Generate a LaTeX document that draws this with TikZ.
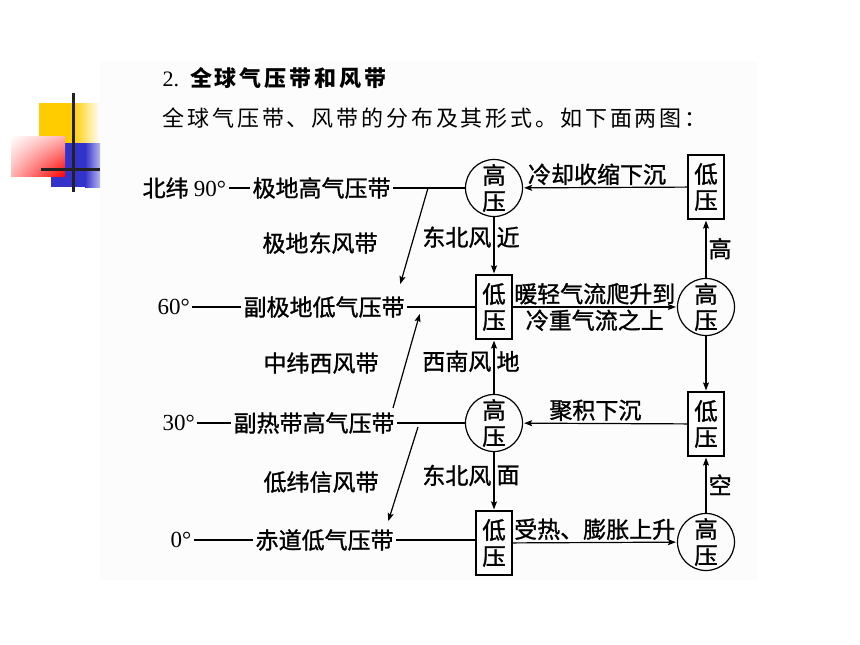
\documentclass[tikz,border=0pt]{standalone}
\usepackage{fontspec}
\setmainfont{Liberation Serif}
\newfontfamily\cjk{Noto Sans CJK SC}
\newfontfamily\cjkm[FakeBold=1.2]{Noto Sans CJK SC}
\usepackage{tikz}
\usetikzlibrary{arrows.meta, positioning, shadings}

\definecolor{decoyellow}{HTML}{FFCC00}
\definecolor{decoblue}{HTML}{3333CC}
\definecolor{decoline}{HTML}{222222}

\begin{document}
\begin{tikzpicture}[x = 1pt, y = -1pt, >={Stealth[length = 8pt, width = 6pt, inset = 1.5pt]}, line width = 1.2pt, font = \cjkm\fontsize{23}{26}\selectfont]
  \tikzstyle{every node} = [inner sep = 2pt]
  \tikzstyle{high} = [draw, shape = circle, minimum size = 57pt, inner sep = 0pt, align = center, font = \cjkm\fontsize{23.5}{26}\selectfont]
  \tikzstyle{low}  = [draw, shape = rectangle, minimum width = 36pt, minimum height = 64pt, inner sep = 0pt, align = center, font = \cjkm\fontsize{23.5}{26}\selectfont]
  \tikzstyle{flow} = [->, shorten >= 1pt]
  \tikzstyle{band} = [anchor = west]

  \useasboundingbox (0,0) rectangle (860,645);
  \fill[black!1.2] (100,62) rectangle (758,580);

  % corner mark
  \fill[decoyellow] (39,103) rectangle (73,143);
  \shade[left color = decoyellow, right color = white] (73,103) rectangle (100,143);
  \fill[decoblue] (51,143) rectangle (85,187);
  \shade[left color = decoblue, right color = decoblue!35] (85,143) rectangle (100,187);
  \shade[lower left = red!30, lower right = red, upper left = white, upper right = red!30] (11,136) rectangle (65,176);
  \draw[decoline, line width = 3pt] (73,93) -- (73,192);
  \draw[decoline, line width = 3pt] (41,169) -- (100,169);

  % heading
  \node[anchor = west, font = \cjk\fontsize{22}{26}\selectfont] (title) at (160,78)
    {{\rmfamily 2.}\hspace{11pt}{\bfseries\addfontfeature{LetterSpace=13}全球气压带和风带}};
  \node[anchor = west, font = \cjk\fontsize{22}{26}\selectfont\addfontfeature{LetterSpace=13}] (intro) at (160,118)
    {全球气压带、风带的分布及其形式。如下面两图：};

  % latitudes and belts
  \node[band] (lat90) at (140,188) {北纬 {\rmfamily 90°}};
  \node[band] (polarH) at (250,188) {极地高气压带};
  \node[band] (lat60) at (155,307) {\rmfamily 60°};
  \node[band] (subpolarL) at (241,307) {副极地低气压带};
  \node[band] (lat30) at (160,423) {\rmfamily 30°};
  \node[band] (subtropH) at (231,423) {副热带高气压带};
  \node[band] (lat0) at (168,540) {\rmfamily 0°};
  \node[band] (equatorL) at (253,540) {赤道低气压带};

  \node (polarE) at (320,243) {极地东风带};
  \node (westerly) at (321,363) {中纬西风带};
  \node (trade) at (321,482) {低纬信风带};

  % pressure cells
  \node[high] (G1) at (494,188) {高\\压};
  \node[low]  (D1) at (494,307) {低\\压};
  \node[high] (G3) at (494,423) {高\\压};
  \node[low]  (D4) at (494,543) {低\\压};
  \node[low]  (D0) at (706,187) {低\\压};
  \node[high] (G2) at (706,307) {高\\压};
  \node[low]  (D3) at (706,424) {低\\压};
  \node[high] (G4) at (706,542) {高\\压};

  \draw (lat90) -- (polarH);
  \draw (lat60) -- (subpolarL);
  \draw (lat30) -- (subtropH);
  \draw (lat0) -- (equatorL);
  \draw (polarH) -- (G1);
  \draw (subpolarL) -- (D1);
  \draw (subtropH) -- (G3);
  \draw (equatorL) -- (equatorL -| D4.west);

  % winds
  \coordinate (w1s) at (428,188);
  \coordinate (w1e) at (400,285);
  \coordinate (w2s) at (393,408);
  \coordinate (w2e) at (420,313);
  \coordinate (w3s) at (418,427);
  \coordinate (w3e) at (388,522);
  \draw[flow] (w1s) -- (w1e);
  \draw[flow] (w2s) -- (w2e);
  \draw[flow] (w3s) -- (w3e);

  \path (D0) edge[flow] node[above, pos = 0.55] {冷却收缩下沉} (G1)
        (G1) edge[flow] node[left, pos = 0.35] {东北风} node[right, pos = 0.35] {近} (D1)
        (D1) edge[flow] node[above] {暖轻气流爬升到} node[below] {冷重气流之上} (G2)
        (G2) edge[flow] node[right] {高} (D0)
        (G2) edge[flow] (D3)
        (D3) edge[flow] node[above, pos = 0.56] {聚积下沉} (G3)
        (G3) edge[flow] node[left, pos = 0.6] {西南风} node[right, pos = 0.6] {地} (D1)
        (G3) edge[flow] node[left, pos = 0.4] {东北风} node[right, pos = 0.4] {面} (D4)
        (D4) edge[flow] node[above] {受热、膨胀上升} (G4)
        (G4) edge[flow] node[right] {空} (D3);

\end{tikzpicture}
\end{document}
